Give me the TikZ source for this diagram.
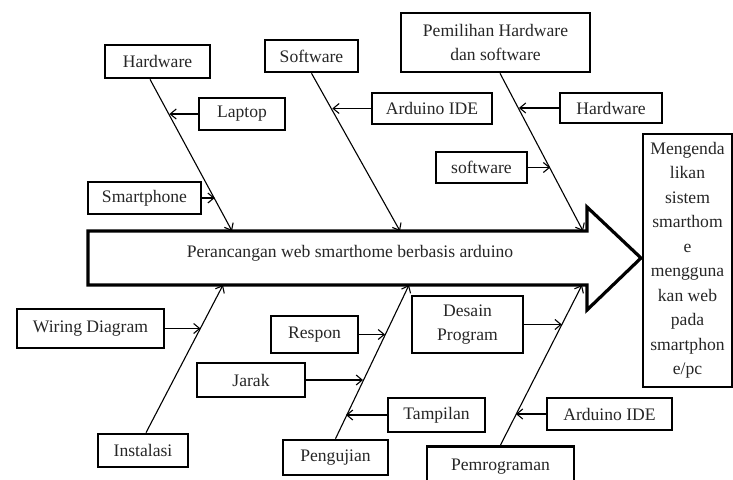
\documentclass[tikz,border=0pt]{standalone}
\usepackage{fontspec}
\setmainfont{Liberation Serif}
\usetikzlibrary{arrows.meta,calc}
\begin{document}
\begin{tikzpicture}[x=1pt,y=-1pt,
  every node/.style={font=\fontsize{17.6}{24.5}\selectfont, text=black!85},
  box/.style={draw=black, line width=2.6pt, inner sep=0pt, align=center},
  bone/.style={line width=1.1pt, -{Straight Barb[length=6pt,width=10pt,line width=1.1pt]}},
  twig/.style={line width=1.1pt, -{Straight Barb[length=6pt,width=10pt,line width=1.1pt]}},
  spine/.style={draw=black, line width=3.2pt, line join=miter}
]
\useasboundingbox (0,0) rectangle (733,479);

% main arrow (spine)
\draw[spine] (88,231) -- (587,231) -- (587,207) -- (641,258) -- (587,310) -- (587,285) -- (88,285) -- cycle;
\node (spinetext) at (350,253) {Perancangan web smarthome berbasis arduino};

% bone end points on the spine
\coordinate (e1) at (232,231);
\coordinate (e2) at (400,231);
\coordinate (e3) at (583,231);
\coordinate (e4) at (223,285);
\coordinate (e5) at (409,285);
\coordinate (e6) at (582,285);

% boxes
\node[box, minimum width=105pt, minimum height=33pt] (hw) at (157.5,61.5) {Hardware};
\node[box, minimum width=93pt, minimum height=32pt] (sw) at (311.5,56) {Software};
\node[box, minimum width=86pt, minimum height=32pt] (laptop) at (242,114) {Laptop};
\node[box, minimum width=113pt, minimum height=32pt] (smart) at (144.5,198) {Smartphone};
\node[box, minimum width=189pt, minimum height=59pt] (pemilihan) at (495.5,42.5) {Pemilihan Hardware\\dan software};
\node[box, minimum width=120pt, minimum height=31pt] (ideA) at (432,108.5) {Arduino IDE};
\node[box, minimum width=102pt, minimum height=30pt] (hwB) at (611,108) {Hardware};
\node[box, minimum width=91pt, minimum height=31pt] (swB) at (481.5,167.5) {software};
\node[box, minimum width=89pt, minimum height=253pt] (out) at (687.5,260.5) {Mengenda\\likan\\sistem\\smarthom\\e\\mengguna\\kan web\\pada\\smartphon\\e/pc};
\node[box, minimum width=147pt, minimum height=39pt] (wiring) at (90.5,328.5) {Wiring Diagram};
\node[box, minimum width=90pt, minimum height=33pt] (instal) at (143,450.5) {Instalasi};
\node[box, minimum width=87pt, minimum height=37pt] (respon) at (314.5,334.5) {Respon};
\node[box, minimum width=108pt, minimum height=34pt] (jarak) at (251,380) {Jarak};
\node[box, minimum width=105pt, minimum height=35pt] (uji) at (335.5,457.5) {Pengujian};
\node[box, minimum width=111pt, minimum height=57pt] (desain) at (467.5,324.5) {Desain\\Program};
\node[box, minimum width=97pt, minimum height=34pt] (tampil) at (436.5,415) {Tampilan};
\node[box, minimum width=125pt, minimum height=32pt] (ideB) at (609.5,414) {Arduino IDE};
\node[box, minimum width=147pt, minimum height=45pt, anchor=north] (prog) at (500.5,445) {\raisebox{9pt}{Pemrograman}};

% bones
\draw[bone] ($(hw.south)+(-7.5,0)$) -- (e1);
\draw[bone] (sw.south) -- (e2);
\draw[bone] ($(pemilihan.south)+(4.5,0)$) -- (e3);
\draw[bone] ($(instal.north)+(3,0)$) -- (e4);
\draw[bone] (uji.north) -- (e5);
\draw[bone] (prog.north) -- (e6);

% twig end points on the bones
\coordinate (t1) at (169.4,114);
\coordinate (t2) at (214.7,198);
\coordinate (t3) at (332.3,108.5);
\coordinate (t4) at (518.9,108);
\coordinate (t5) at (550.2,167.5);
\coordinate (t6) at (200.5,328.5);
\coordinate (t7) at (385,334.5);
\coordinate (t8) at (363,380);
\coordinate (t9) at (346,415);
\coordinate (t10) at (561.8,324.5);
\coordinate (t11) at (515.9,414);

% twigs
\draw[twig] (laptop.west) -- (t1);
\draw[twig] (smart.east) -- (t2);
\draw[twig] (ideA.west) -- (t3);
\draw[twig] (hwB.west) -- (t4);
\draw[twig] (swB.east) -- (t5);
\draw[twig] (wiring.east) -- (t6);
\draw[twig] (respon.east) -- (t7);
\draw[twig] (jarak.east) -- (t8);
\draw[twig] (tampil.west) -- (t9);
\draw[twig] (desain.east) -- (t10);
\draw[twig] (ideB.west) -- (t11);
\end{tikzpicture}
\end{document}
